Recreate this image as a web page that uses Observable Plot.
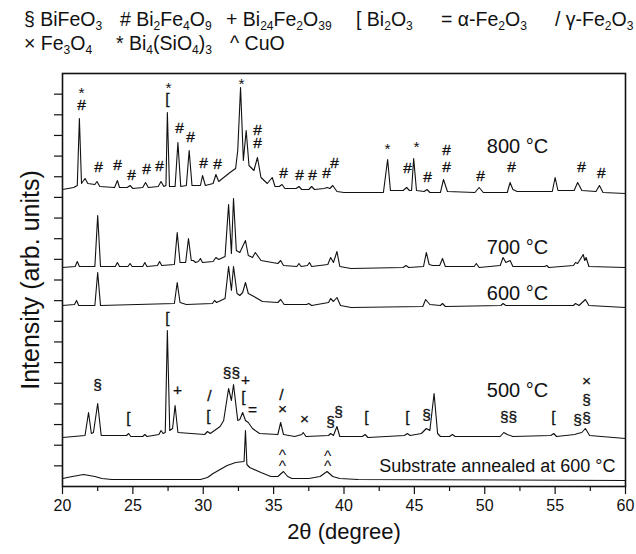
<!DOCTYPE html>
<html><head><meta charset="utf-8">
<script src="https://cdn.jsdelivr.net/npm/d3@7"></script>
<script src="https://cdn.jsdelivr.net/npm/@observablehq/plot@0.6"></script>
<style>
body{margin:0;background:#fff;font-family:"Liberation Sans",Arial,sans-serif;}
#legend{position:relative;width:636px;height:62px;font-size:19.5px;color:#111;}
#legend span{position:absolute;white-space:nowrap;line-height:1;}
#legend sub{font-size:62%;vertical-align:-0.3em;line-height:0;}
</style></head><body>
<div id="legend"></div>
<div id="chart"></div>
<script>
// ---- data: 2θ (degree), intensity (arb. units) ----
const t800 = [[20.0,297],[20.8,299],[21.05,301],[21.2,368],[21.35,303],[21.6,308],[21.8,303],[22.3,302],[22.45,305],[22.65,300],[23.7,299],[23.9,306],[24.05,299],[24.6,299],[24.8,301],[25.0,298],[25.7,299],[25.9,304],[26.1,299],[26.8,300],[27.0,305],[27.2,300],[27.35,301],[27.45,374],[27.6,300],[28.0,300],[28.2,344],[28.4,300],[28.8,301],[29.0,336],[29.2,301],[29.8,301],[29.95,311],[30.15,301],[30.7,303],[30.9,312],[31.1,305],[31.9,314],[32.3,318],[32.45,336],[32.65,399],[32.85,326],[33.05,356],[33.25,321],[33.6,316],[33.85,329],[34.1,309],[34.55,303],[34.9,309],[35.1,300],[35.4,300],[35.6,302],[35.8,298],[36.6,298],[36.8,300],[37.0,297],[37.5,297],[37.7,300],[37.9,297],[38.6,298],[38.8,299],[39.0,298],[39.2,301],[39.5,295],[40.0,294],[42.8,294],[43.1,327],[43.3,296],[44.2,296],[44.45,299],[44.65,296],[44.8,296],[44.95,328],[45.15,296],[45.7,295],[45.9,297],[46.1,294],[46.85,294],[47.07,307],[47.35,295],[49.3,294],[49.6,299],[49.9,294],[51.6,294],[51.8,304],[52.0,297],[52.3,295],[54.8,295],[55.0,309],[55.2,296],[56.35,296],[56.6,304],[56.9,296],[57.9,295],[58.15,301],[58.4,294],[60.0,293]];
const t700 = [[20.0,219],[20.9,220],[21.05,225],[21.2,220],[22.3,220],[22.5,271],[22.7,220],[23.75,220],[23.9,224],[24.05,220],[24.65,220],[24.8,223],[24.95,220],[25.7,220],[25.85,224],[26.0,220],[26.75,221],[26.9,225],[27.05,221],[27.95,222],[28.15,254],[28.35,224],[28.75,224],[28.95,248],[29.15,226],[29.3,226],[29.45,224],[29.65,225],[29.8,228],[29.95,224],[30.7,225],[30.9,229],[31.1,227],[31.55,230],[31.8,282],[32.0,233],[32.15,288],[32.35,236],[32.6,234],[33.0,246],[33.2,231],[33.5,229],[33.7,234],[34.1,226],[35.3,223],[35.5,226],[35.7,221],[36.65,220],[36.8,223],[36.95,220],[37.4,221],[37.55,224],[37.7,220],[38.85,222],[39.05,229],[39.25,224],[39.5,235],[39.7,220],[40.5,218],[44.2,219],[44.4,221],[44.6,219],[45.65,220],[45.85,234],[46.05,222],[46.3,221],[46.8,221],[47.0,228],[47.2,220],[49.25,220],[49.4,223],[49.6,219],[51.1,221],[51.3,229],[51.5,224],[51.8,226],[52.0,220],[54.25,220],[54.4,221],[54.55,219],[56.3,221],[56.45,224],[56.6,223],[57.0,232],[57.1,226],[57.2,229],[57.4,220],[60.0,219]];
const t600 = [[20.0,181],[20.85,182],[21.0,186],[21.15,181],[22.3,181],[22.5,214],[22.7,181],[27.95,183],[28.15,204],[28.35,184],[28.8,182],[30.65,183],[30.8,186],[30.95,184],[31.55,188],[31.8,220],[32.0,196],[32.15,220],[32.4,193],[32.6,191],[32.8,194],[33.0,204],[33.2,193],[33.6,190],[34.2,185],[35.3,184],[35.5,187],[35.75,182],[37.35,182],[37.5,183],[37.7,181],[38.9,184],[39.05,188],[39.25,185],[39.5,189],[39.75,181],[40.5,179],[45.6,180],[45.8,187],[46.1,182],[46.85,181],[47.0,183],[47.2,180],[51.15,181],[51.3,183],[51.5,181],[56.3,181],[56.45,183],[56.7,181],[57.15,187],[57.4,181],[60.0,179]];
const t500 = [[20.0,49],[21.6,51],[21.85,74],[22.05,53],[22.2,54],[22.5,83],[22.75,51],[24.55,51],[24.7,53],[24.85,50],[25.7,50],[25.85,52],[26.0,50],[26.85,52],[27.0,56],[27.15,53],[27.3,54],[27.45,156],[27.62,56],[27.82,58],[28.0,81],[28.2,54],[30.1,52],[30.3,55],[30.5,53],[31.2,60],[31.45,66],[31.8,98],[32.0,86],[32.15,102],[32.45,66],[32.6,67],[32.8,74],[33.0,66],[33.2,64],[33.5,58],[34.0,53],[35.3,52],[35.5,64],[35.7,52],[36.5,50],[37.0,52],[37.1,54],[37.3,50],[38.9,51],[39.05,53],[39.25,51],[39.5,60],[39.7,50],[41.3,50],[41.5,52],[41.7,49],[44.3,51],[44.5,53],[44.7,51],[45.5,53],[45.85,58],[46.1,56],[46.4,93],[46.65,53],[46.85,50],[47.5,50],[47.7,52],[47.9,50],[51.1,50],[51.35,54],[51.6,52],[52.0,50],[54.7,51],[54.9,53],[55.1,50],[56.4,52],[56.6,53],[56.9,54],[57.15,58],[57.45,51],[60.0,48]];
const tSub = [[20.0,8],[20.7,10],[21.5,12],[22.3,10],[22.8,8],[23.5,7],[29.8,7],[30.3,9],[30.7,13],[31.2,17],[31.7,21],[32.3,24],[32.9,25],[33.0,56],[33.1,22],[33.3,19],[34.1,14],[34.8,10],[35.3,10],[35.7,15],[36.0,10],[36.3,8],[37.5,8],[38.3,10],[38.8,15],[39.2,10],[39.7,8],[41.0,7],[60.0,6]];

// peak markers: [2θ, intensity, symbol]
const marks800 = [[21.35,397,"*"],[21.35,381,"#"],[22.56,319,"#"],[23.91,321,"#"],[24.9,311,"#"],[25.97,317,"#"],[26.89,320,"#"],[27.53,402,"*"],[27.46,387,"["],[28.31,358,"#"],[29.09,349,"#"],[30.02,323,"#"],[31.01,322,"#"],[32.72,406,"*"],[33.85,356,"#"],[33.85,343,"#"],[35.7,313,"#"],[36.84,311,"#"],[37.76,311,"#"],[38.76,313,"#"],[39.33,323,"#"],[43.09,341,"*"],[44.51,318,"#"],[45.15,343,"*"],[45.93,309,"#"],[47.28,336,"#"],[47.28,319,"#"],[49.7,310,"#"],[51.9,319,"#"],[56.87,319,"#"],[58.29,313,"#"]];
const marks500 = [[22.49,101,"§"],[24.69,68,"["],[27.46,168,"["],[28.17,96,"+"],[30.44,90,"/"],[30.37,70,"["],[32.0,113,"§§"],[33.0,106,"+"],[32.86,89,"["],[33.5,76,"="],[35.56,91,"/"],[35.63,77,"×"],[37.19,67,"×"],[39.04,64,"§"],[39.61,74,"§"],[41.6,69,"["],[44.51,69,"["],[45.86,71,"§"],[51.69,69,"§§"],[54.88,69,"["],[56.59,66,"§"],[57.23,86,"§"],[57.23,68,"§"],[57.23,105,"×"]];
const marksSub = [[35.63,35,"^"],[35.63,24,"^"],[38.83,34,"^"],[38.83,24,"^"]];

const sampleLabels = [[52.33,340,"800 °C"],[52.33,239,"700 °C"],[52.33,193,"600 °C"],[52.33,96,"500 °C"]];
const substrateLabel = [[59.29,20,"Substrate annealed at 600 °C"]];

const legendRow1 = ["§ BiFeO<sub>3</sub>","# Bi<sub>2</sub>Fe<sub>4</sub>O<sub>9</sub>","+ Bi<sub>24</sub>Fe<sub>2</sub>O<sub>39</sub>","[ Bi<sub>2</sub>O<sub>3</sub>","= α-Fe<sub>2</sub>O<sub>3</sub>","/ γ-Fe<sub>2</sub>O<sub>3</sub>"];
const legendRow2 = ["× Fe<sub>3</sub>O<sub>4</sub>","* Bi<sub>4</sub>(SiO<sub>4</sub>)<sub>3</sub>","^ CuO"];

const xMajor = [20,25,30,35,40,45,50,55,60];
const xMinor = [22.5,27.5,32.5,37.5,42.5,47.5,52.5,57.5];

// ---- legend ----
const leg = document.getElementById("legend");
const pos1 = [24,120,226,356,441,555], pos2 = [24,116,230];
legendRow1.forEach((h,i)=>{const s=document.createElement("span");s.innerHTML=h;s.style.left=pos1[i]+"px";s.style.top="10px";leg.appendChild(s);});
legendRow2.forEach((h,i)=>{const s=document.createElement("span");s.innerHTML=h;s.style.left=pos2[i]+"px";s.style.top="34px";leg.appendChild(s);});

// ---- chart ----
const font = "Liberation Sans, Arial, sans-serif";
const yTicks = d3.range(1,20).map(k=>k*20.65);
const X = d=>d[0], Y = d=>d[1], T = d=>d[2];
const isHigh = d => d[2]==="*" || d[2]==="^";
const allMarks = [...marks800, ...marks500, ...marksSub];

const chart = Plot.plot({
  width: 636, height: 492,
  marginTop: 11, marginBottom: 68, marginLeft: 62, marginRight: 11,
  style: {fontFamily: font, color: "#111", background: "#fff"},
  x: {domain: [20,60]},
  y: {domain: [0,413]},
  marks: [
    Plot.axisY({ticks: yTicks, tickSize: 8, tickFormat: () => "", label: null, strokeWidth: 1.2}),
    Plot.axisX({ticks: xMajor, tickSize: 8, tickPadding: 5, fontSize: 16, label: null, strokeWidth: 1.2}),
    Plot.axisX({ticks: xMinor, tickSize: 5, tickFormat: () => "", label: null, strokeWidth: 1.2}),
    Plot.frame({stroke: "#111", strokeWidth: 1.6}),
    ...[t800, t700, t600, t500, tSub].map(t => Plot.line(t, {x: X, y: Y, stroke: "#111", strokeWidth: 1.1})),
    Plot.text(allMarks.filter(d=>!isHigh(d)), {x: X, y: Y, text: T, fontSize: 15.5, fill: "#111", stroke: "#111", strokeWidth: 0.3}),
    Plot.text(allMarks.filter(isHigh), {x: X, y: Y, text: T, fontSize: 15.5, dy: 4, fill: "#111"}),
    Plot.text(sampleLabels, {x: X, y: Y, text: T, fontSize: 20, fill: "#111"}),
    Plot.text(substrateLabel, {x: X, y: Y, text: T, fontSize: 18, textAnchor: "end", fill: "#111"}),
    Plot.text(["2θ (degree)"], {frameAnchor: "bottom", dy: 52, fontSize: 22, fill: "#111"}),
    Plot.text(["Intensity (arb. units)"], {frameAnchor: "left", textAnchor: "middle", dx: -32, rotate: -90, fontSize: 25, fill: "#111"})
  ]
});
document.getElementById("chart").appendChild(chart);
</script>
</body></html>
